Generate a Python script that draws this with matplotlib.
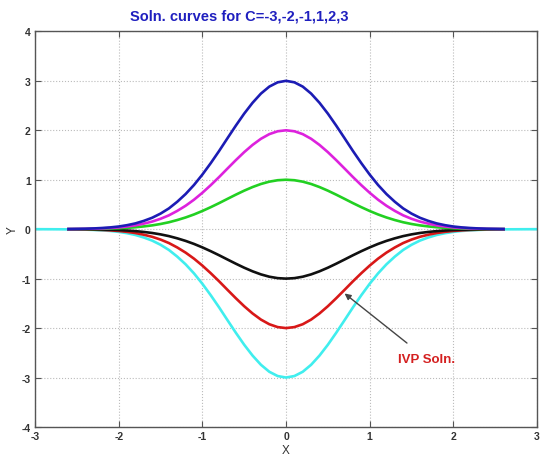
"""Solution curves y = C * profile(x) for several constants C."""

import matplotlib.pyplot as plt
import numpy as np

plt.rcParams["font.family"] = ["Liberation Sans", "DejaVu Sans"]
plt.rcParams["axes.unicode_minus"] = False

# values (unit curve, C = 1)
x_vals = [-2.6, -2.5, -2.4, -2.3, -2.2, -2.1, -2.0, -1.9, -1.8, -1.7, -1.6, -1.5, -1.4,
          -1.3, -1.2, -1.1, -1.0, -0.9, -0.8, -0.7, -0.6, -0.5, -0.4, -0.3, -0.2, -0.1,
          0.0, 0.1, 0.2, 0.3, 0.4, 0.5, 0.6, 0.7, 0.8, 0.9, 1.0, 1.1, 1.2, 1.3, 1.4,
          1.5, 1.6, 1.7, 1.8, 1.9, 2.0, 2.1, 2.2, 2.3, 2.4, 2.5, 2.6]
profile = [0.001, 0.002, 0.003, 0.005, 0.008, 0.012, 0.018, 0.027, 0.039, 0.056, 0.077,
           0.105, 0.14, 0.185, 0.237, 0.298, 0.368, 0.445, 0.527, 0.613, 0.698, 0.779,
           0.852, 0.914, 0.961, 0.990, 1.0, 0.990, 0.961, 0.914, 0.852, 0.779, 0.698,
           0.613, 0.527, 0.445, 0.368, 0.298, 0.237, 0.185, 0.14, 0.105, 0.077, 0.056,
           0.039, 0.027, 0.018, 0.012, 0.008, 0.005, 0.003, 0.002, 0.001]
c_values = [-3, -2, -1, 1, 2, 3]
colors = ["#40eeee", "#d81818", "#101010", "#22d022", "#dd22dd", "#1c1cb4"]

# the C=-3 curve is drawn over the whole x range
x_wide = [-3.0] + x_vals + [3.0]
profile_wide = [0.0] + profile + [0.0]

x_ticks = [-3, -2, -1, 0, 1, 2, 3]
y_ticks = [-4, -3, -2, -1, 0, 1, 2, 3, 4]

fig = plt.figure(figsize=(5.43, 4.60), dpi=100)
ax = fig.add_axes([0.0645, 0.0696, 0.9245, 0.86])

for c, col in zip(c_values, colors):
    if c == c_values[0]:
        ax.plot(np.array(x_wide), c * np.array(profile_wide), color=col, lw=1.9)
    else:
        ax.plot(np.array(x_vals), c * np.array(profile), color=col, lw=1.9)

ax.set_xlim(-3, 3)
ax.set_ylim(-4, 4)
ax.set_xticks(x_ticks)
ax.set_yticks(y_ticks)
ax.tick_params(direction="in", top=True, right=True, length=4, labelsize=7.5,
               color="#555555", pad=3)
for lab in ax.get_xticklabels() + ax.get_yticklabels():
    lab.set_fontweight("bold")
    lab.set_color("#333333")
ax.grid(True, linestyle=":", color="#bbbbbb", lw=0.8)
for sp in ax.spines.values():
    sp.set_color("#555555")
    sp.set_linewidth(1.0)

ax.set_xlabel("X", fontsize=8.5, color="#333333", labelpad=2)
ax.set_ylabel("Y", fontsize=8.5, color="#333333", labelpad=2)

fig.text(0.44, 0.965, "Soln. curves for C=-3,-2,-1,1,2,3", ha="center", va="center",
         fontsize=10.5, fontweight="bold", color="#1f1fbf")

ax.annotate("IVP Soln.", xy=(0.70, -1.30), xytext=(1.34, -2.62),
            fontsize=9.5, fontweight="bold", color="#d42020", ha="left", va="center",
            arrowprops=dict(arrowstyle="-|>", color="#444444", lw=1.0,
                            mutation_scale=9, shrinkA=8, shrinkB=0))

fig.savefig("out.png", dpi=100)
